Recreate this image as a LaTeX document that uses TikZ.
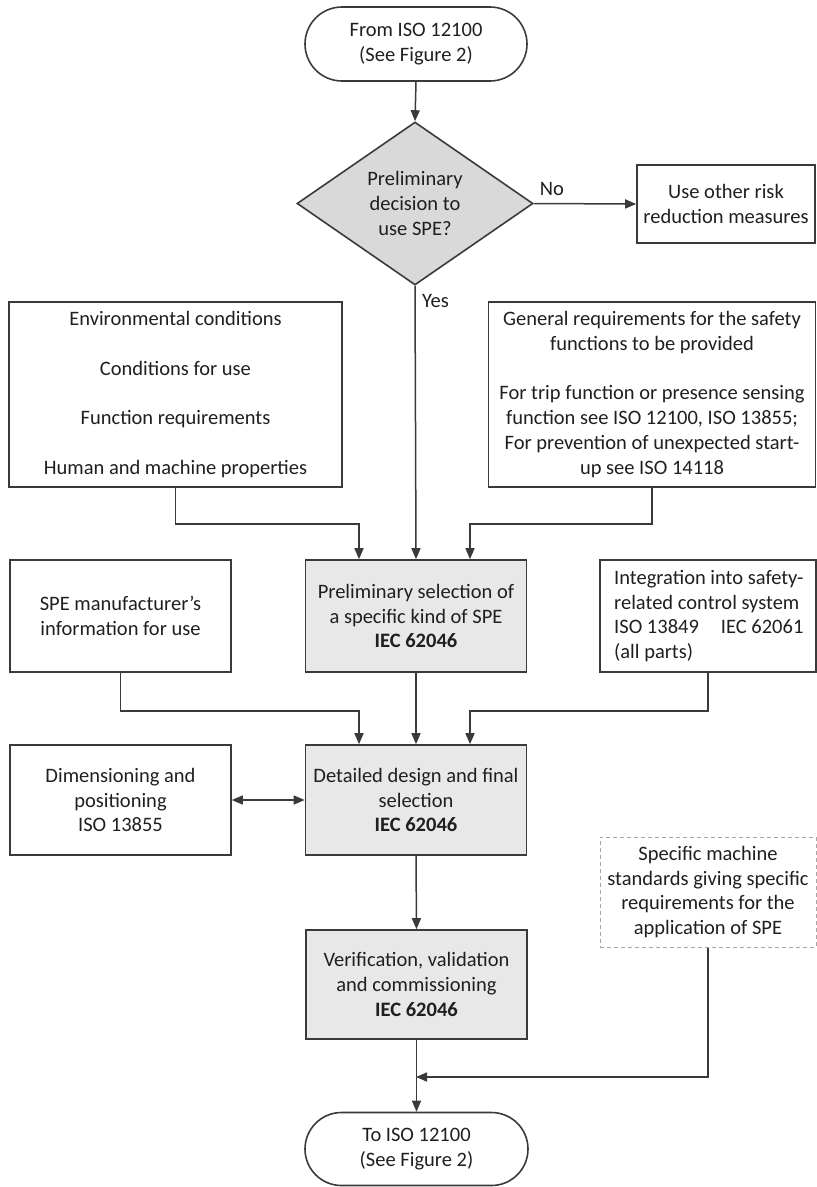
\documentclass[tikz,border=0pt]{standalone}
\usepackage{fontspec}
\setmainfont{Carlito}
\usetikzlibrary{shapes.geometric,shapes.misc,arrows.meta}
\definecolor{ln}{HTML}{3A3A3A}
\definecolor{boxfill}{HTML}{E8E8E8}
\definecolor{dfill}{HTML}{D9D9D9}
\definecolor{dashc}{HTML}{A6A6A6}
\definecolor{txt}{HTML}{1F1F1F}
\begin{document}
\begin{tikzpicture}[x=1pt,y=-1pt,
  every node/.style={font=\fontsize{20.5}{24.7}\selectfont, text=txt},
  box/.style={draw=ln, line width=1.6pt, rectangle, inner sep=0pt, align=center},
  greybox/.style={box, fill=boxfill},
  term/.style={draw=ln, line width=1.6pt, rounded rectangle, inner sep=0pt, align=center},
  conn/.style={draw=ln, line width=1.5pt},
  arr/.style={conn, -{Triangle[length=11pt,width=9pt]}},
  dbl/.style={conn, {Triangle[length=11pt,width=9pt]}-{Triangle[length=11pt,width=9pt]}},
  lbl/.style={inner sep=0pt}
]
\useasboundingbox (0,0) rectangle (817,1187);

% nodes
\node[term, minimum width=222, minimum height=74] (top) at (416,44) {From ISO 12100\\(See Figure 2)};
\node[diamond, draw=ln, line width=1.6pt, fill=dfill, inner sep=0pt, aspect=1.45,
      minimum width=236, minimum height=163, align=center] (dec) at (415,203.5)
      {Preliminary\\decision to\\use SPE?};
\node[box, minimum width=178, minimum height=78] (other) at (726,204)
      {Use other risk\\reduction measures};
\node[box, minimum width=333, minimum height=185] (env) at (175.5,394.5)
      {Environmental conditions\\[24.7pt]Conditions for use\\[24.7pt]Function requirements\\[24.7pt]Human and machine properties};
\node[box, minimum width=327, minimum height=185] (gen) at (652,394.5)
      {General requirements for the safety\\functions to be provided\\[24.7pt]For trip function or presence sensing\\function see ISO 12100, ISO 13855;\\For prevention of unexpected start-\\up see ISO 14118};
\node[box, minimum width=221, minimum height=112] (spe) at (120.5,616)
      {SPE manufacturer’s\\information for use};
\node[greybox, minimum width=221, minimum height=112] (prelim) at (416,616)
      {Preliminary selection of\\a specific kind of SPE\\\textbf{IEC 62046}};
\node[box, minimum width=216, minimum height=112] (int) at (708,616) {};
\node[lbl, anchor=west, align=left] (inttext) at (614,616)
      {Integration into safety-\\related control system\\ISO 13849\hspace{22pt}IEC 62061\\(all parts)};
\node[box, minimum width=221, minimum height=110] (dim) at (120.5,800)
      {Dimensioning and\\positioning\\ISO 13855};
\node[greybox, minimum width=221, minimum height=110] (detail) at (416,800)
      {Detailed design and final\\selection\\\textbf{IEC 62046}};
\node[greybox, minimum width=221, minimum height=109] (verif) at (416.5,984.5)
      {Verification, validation\\and commissioning\\\textbf{IEC 62046}};
\node[rectangle, draw=dashc, line width=1pt, dash pattern=on 4pt off 3pt, inner sep=0pt,
      align=center, minimum width=216, minimum height=110] (spec) at (708,892)
      {Specific machine\\standards giving specific\\requirements for the\\application of SPE};
\node[term, minimum width=223, minimum height=73] (bot) at (416.5,1149) {To ISO 12100\\(See Figure 2)};

\coordinate (join) at (416,1077);

% labels
\node[lbl] (nolbl) at (552,189) {No};
\node[lbl, anchor=west] (yeslbl) at (422,301) {Yes};

% connectors
\draw[arr] (top.south) -- (dec.north);
\draw[arr] (dec.east) -- (other.west);
\draw[arr] (dec.south) -- (prelim.north);
\draw[arr] (env.south) -- ++(0,36) -| ([xshift=-57pt]prelim.north);
\draw[arr] (gen.south) -- ++(0,36) -| ([xshift=54pt]prelim.north);
\draw[arr] (spe.south) -- ++(0,38) -| ([xshift=-57pt]detail.north);
\draw[arr] (int.south) -- ++(0,38) -| ([xshift=54pt]detail.north);
\draw[arr] (prelim.south) -- (detail.north);
\draw[dbl] (dim.east) -- (detail.west);
\draw[arr] (detail.south) -- (verif.north);
\draw[arr] (verif.south) -- (bot.north);
\draw[arr] (spec.south) |- (join);
\end{tikzpicture}
\end{document}
